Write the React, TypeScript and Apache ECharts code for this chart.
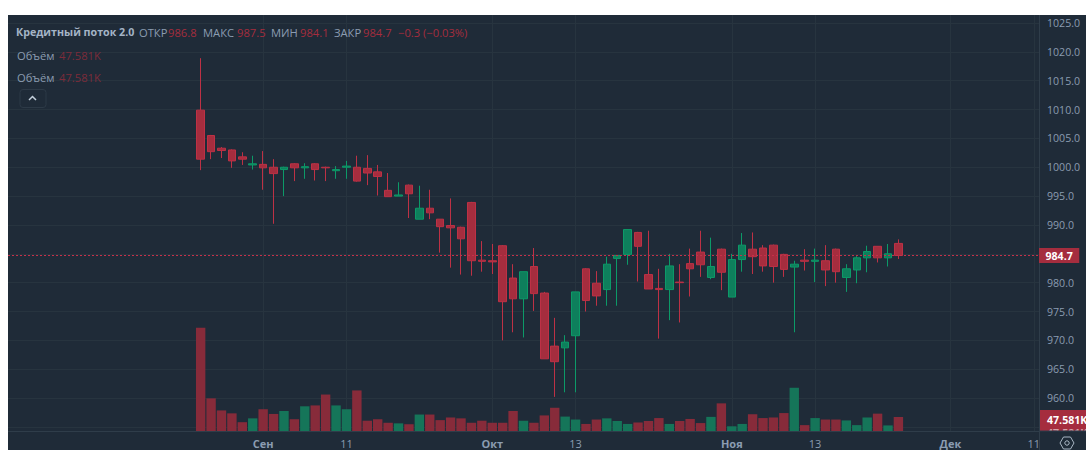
import React, { useEffect, useRef } from "react";
import * as echarts from "echarts";

const opens = [
  1009.9, 1005.5, 1003.3, 1003.0, 1001.8, 1000.4, 1000.5, 1000.0, 999.6, 1000.6,
  999.9, 1000.6, 1000.0, 999.4, 1000.0, 1000.0, 999.8, 999.2, 996.0, 995.0,
  996.9, 991.0, 992.9, 991.0, 989.9, 989.6, 993.9, 983.9, 983.8, 986.4,
  980.8, 977.2, 982.8, 978.2, 969.0, 968.7, 970.8, 982.4, 979.9, 978.8,
  984.2, 984.9, 988.7, 981.4, 979.0, 978.8, 980.1, 983.3, 985.3, 980.9,
  985.8, 977.5, 984.0, 985.8, 986.0, 986.5, 984.9, 982.7, 983.9, 983.7,
  983.8, 985.8, 980.9, 982.2, 984.3, 986.3, 984.3, 986.8,
];
const closes = [
  1001.4, 1002.7, 1002.9, 1001.1, 1001.4, 1000.6, 999.9, 998.9, 1000.0, 999.9,
  1000.1, 999.6, 999.9, 999.6, 1000.2, 997.6, 999.0, 998.4, 994.9, 995.2,
  995.4, 992.9, 992.1, 989.7, 989.5, 987.6, 983.8, 983.7, 983.6, 976.7,
  977.2, 981.9, 978.1, 966.8, 966.3, 969.7, 978.4, 976.9, 977.7, 983.2,
  984.7, 989.2, 986.3, 978.9, 978.8, 982.9, 980.0, 982.4, 983.1, 982.8,
  981.8, 984.0, 986.5, 984.5, 982.9, 982.8, 982.3, 983.2, 983.7, 983.9,
  982.2, 981.9, 982.4, 984.3, 985.4, 984.3, 985.0, 984.7,
];
const highs = [
  1018.9, 1005.6, 1003.5, 1003.1, 1002.6, 1002.0, 1002.8, 1001.4, 1000.1, 1000.7,
  1000.7, 1000.7, 1000.1, 1000.2, 1001.1, 1002.0, 1002.1, 1000.4, 999.0, 997.4,
  997.0, 996.8, 996.1, 991.0, 994.6, 989.7, 994.0, 987.2, 986.7, 986.5,
  983.2, 981.9, 986.0, 978.4, 973.9, 970.9, 978.4, 982.5, 982.0, 984.5,
  984.8, 989.3, 988.8, 989.0, 982.4, 985.0, 983.2, 985.9, 989.0, 987.8,
  985.9, 985.0, 988.6, 988.7, 986.5, 986.6, 985.0, 983.8, 985.8, 985.9,
  986.5, 985.9, 983.2, 984.6, 986.4, 986.3, 986.7, 987.5,
];
const lows = [
  999.5, 1001.4, 1001.6, 999.9, 1000.4, 999.6, 996.1, 990.2, 995.0, 997.6,
  998.0, 997.7, 997.6, 998.0, 998.0, 997.5, 996.9, 995.1, 994.9, 995.0,
  991.2, 991.0, 991.0, 985.2, 982.6, 981.4, 981.2, 981.9, 981.5, 970.0,
  971.4, 970.5, 975.1, 966.8, 960.2, 961.0, 961.0, 975.0, 976.0, 976.0,
  976.0, 983.1, 980.2, 978.9, 970.3, 973.5, 973.1, 977.6, 981.0, 980.6,
  978.7, 977.5, 981.9, 981.5, 981.9, 980.0, 981.0, 971.4, 982.1, 980.1,
  979.4, 980.0, 978.4, 979.9, 981.8, 983.5, 982.8, 984.1,
];
const volumes = [
  351, 111, 70, 60, 30, 43, 74, 58, 68, 40,
  84, 87, 124, 87, 74, 138, 35, 40, 28, 26,
  23, 56, 56, 37, 46, 43, 28, 35, 28, 28,
  68, 35, 28, 53, 79, 49, 39, 24, 39, 43,
  34, 24, 29, 34, 44, 24, 34, 41, 27, 48,
  94, 16, 24, 57, 44, 46, 61, 147, 20, 44,
  39, 39, 36, 20, 46, 59, 19, 47.581,
];

const leadingSlots = 18;
const totalSlots = 99;
const tickSlots = [24, 32, 46, 54, 69, 77, 90, 98];
const tickTexts = ["Сен", "11", "Окт", "13", "Ноя", "13", "Дек", "11"];
const monthTexts = ["Сен", "Окт", "Ноя", "Дек"];
const priceTicks = [955, 960, 965, 970, 975, 980, 985, 990, 995, 1000, 1005, 1010, 1015, 1020, 1025];
const priceLabels = priceTicks.slice(1);
const lastPrice = 984.7;
const volumeText = "47.581K";

const BG = "#1f2b38";
const GRID = "#27343f";
const TEXT = "#8b9cb1";
const RED = "#a52d3e";
const RED_BORDER = "#bd3145";
const GREEN = "#0e7f5c";
const GREEN_BORDER = "#0c9a68";
const VOL_RED = "#872b3a";
const VOL_GREEN = "#157559";
const FONT = '"Open Sans", "Noto Sans", sans-serif';
const OX = 8;
const OY = 15;

const categories = Array.from({ length: totalSlots }, (_, i) => {
  const at = tickSlots.indexOf(i);
  return at >= 0 ? tickTexts[at] : "";
});
const pad = (arr: any[]) => [...Array(leadingSlots).fill("-"), ...arr];
const candleData = opens.map((o, i) => [o, closes[i], lows[i], highs[i]]);
const volumeData = volumes.map((v, i) => ({
  value: v,
  itemStyle: { color: closes[i] > opens[i] ? VOL_GREEN : VOL_RED },
}));
const isTick = (i: number) => tickSlots.includes(i);

const txt = (x: number, y: number, text: string, fill: string, fontWeight: any = "normal", fontSize = 11.2, z = 20) => ({
  type: "text",
  x: x - OX,
  y: y - OY,
  z,
  silent: true,
  style: { text, fill, font: `${fontWeight} ${fontSize}px ${FONT}`, textVerticalAlign: "middle" },
});

const legendRow = [
  [139, "ОТКР", TEXT],
  [168, "986.8", RED],
  [203, "МАКС", TEXT],
  [237, "987.5", RED],
  [271, "МИН", TEXT],
  [300, "984.1", RED],
  [334, "ЗАКР", TEXT],
  [363, "984.7", RED],
  [398, "−0.3 (−0.03%)", RED],
] as [number, string, string][];

export default function App() {
  const ref = useRef<HTMLDivElement>(null);
  useEffect(() => {
    const chart = echarts.init(ref.current!, null, { renderer: "svg" });
    const c = { x: 1067 - OX, y: 443 - OY };
    chart.setOption({
      animation: false,
      backgroundColor: BG,
      textStyle: { fontFamily: FONT },
      grid: [
        { left: 0, right: 47, top: 0, height: 416 },
        { left: 0, right: 47, top: 300, height: 116 },
      ],
      xAxis: [
        {
          type: "category",
          gridIndex: 0,
          data: categories,
          boundaryGap: true,
          axisLine: { show: true, lineStyle: { color: "#2f3d4a", width: 1 } },
          axisTick: { show: false },
          axisLabel: {
            show: true,
            interval: (i: number) => isTick(i),
            color: TEXT,
            fontSize: 11,
            margin: 7,
            hideOverlap: false,
            formatter: (v: string) => (monthTexts.includes(v) ? `{m|${v}}` : v),
            rich: { m: { color: TEXT, fontSize: 11, fontWeight: "bold" } },
          },
          splitLine: {
            show: true,
            alignWithLabel: true,
            interval: (i: number) => isTick(i),
            lineStyle: { color: GRID, width: 1 },
          },
        },
        {
          type: "category",
          gridIndex: 1,
          data: categories,
          boundaryGap: true,
          axisLine: { show: false },
          axisTick: { show: false },
          axisLabel: { show: false },
          splitLine: { show: false },
        },
      ],
      yAxis: [
        {
          type: "value",
          gridIndex: 0,
          position: "right",
          min: 954.29,
          max: 1026.386,
          axisLine: { show: true, lineStyle: { color: "#2f3d4a", width: 1 } },
          axisTick: { show: false, customValues: priceTicks },
          axisLabel: {
            show: true,
            customValues: priceLabels,
            color: TEXT,
            fontSize: 10.6,
            margin: 8,
            formatter: (v: number) => v.toFixed(1),
          },
          splitLine: { show: true, lineStyle: { color: GRID, width: 1 } },
        },
        {
          type: "value",
          gridIndex: 1,
          min: 0,
          max: 394.4,
          axisLine: { show: false },
          axisTick: { show: false },
          axisLabel: { show: false },
          splitLine: { show: false },
        },
      ],
      series: [
        {
          type: "bar",
          name: "Объём",
          xAxisIndex: 1,
          yAxisIndex: 1,
          data: pad(volumeData),
          barWidth: 9.4,
          z: 2,
        },
        {
          type: "candlestick",
          name: "Кредитный поток 2.0",
          xAxisIndex: 0,
          yAxisIndex: 0,
          data: pad(candleData),
          barWidth: 8,
          z: 3,
          itemStyle: {
            color: GREEN,
            color0: RED,
            borderColor: GREEN_BORDER,
            borderColor0: RED_BORDER,
            borderWidth: 1,
          },
          markLine: {
            silent: true,
            symbol: "none",
            lineStyle: { color: "#c4304a", type: [2, 2], width: 1, opacity: 1 },
            data: [{ yAxis: lastPrice }],
            label: {
              show: true,
              position: "end",
              distance: 0,
              formatter: () => lastPrice.toFixed(1),
              backgroundColor: RED,
              color: "#ffffff",
              fontWeight: "bold",
              fontSize: 10.6,
              lineHeight: 11,
              padding: [2, 6.5, 2, 6.5],
            },
          },
        },
      ],
      graphic: [
        txt(16, 32, "Кредитный поток 2.0", "#a4b4c6", "bold", 10.7),
        ...legendRow.map(([x, t, col]) => txt(x, 32, t, col)),
        txt(17, 55, "Объём", TEXT),
        txt(59, 55, volumeText, "#7c2b3a"),
        txt(17, 77, "Объём", TEXT),
        txt(59, 77, volumeText, "#7c2b3a"),
        {
          type: "rect",
          z: 20,
          silent: true,
          shape: { x: 20 - OX, y: 89.5 - OY, width: 26, height: 18, r: 3 },
          style: { fill: BG, stroke: "#2d3a47", lineWidth: 1 },
        },
        {
          type: "polyline",
          z: 21,
          silent: true,
          shape: { points: [[29 - OX, 100 - OY], [32.5 - OX, 96.5 - OY], [36 - OX, 100 - OY]] },
          style: { fill: "none", stroke: "#c4d0dc", lineWidth: 1.5 },
        },
        {
          type: "rect",
          z: 30,
          silent: true,
          shape: { x: 1040 - OX, y: 410 - OY, width: 46, height: 21 },
          style: { fill: RED },
        },
        txt(1047, 419.5, volumeText, "#ffffff", "bold", 10.6, 31),
        txt(1047, 433, volumeText, "#d6a0a8", "bold", 10.6, 31),
        {
          type: "rect",
          z: 32,
          silent: true,
          shape: { x: 1040 - OX, y: 431 - OY, width: 46, height: 19 },
          style: { fill: BG },
        },
        {
          type: "line",
          z: 33,
          silent: true,
          shape: { x1: 1039.5 - OX, y1: 431 - OY, x2: 1086 - OX, y2: 431 - OY },
          style: { stroke: "#2f3d4a", lineWidth: 1 },
        },
        {
          type: "line",
          z: 33,
          silent: true,
          shape: { x1: 1039.5 - OX, y1: 431 - OY, x2: 1039.5 - OX, y2: 450 - OY },
          style: { stroke: "#2f3d4a", lineWidth: 1 },
        },
        {
          type: "polygon",
          z: 34,
          silent: true,
          shape: {
            points: [
              [c.x - 7, c.y],
              [c.x - 3.5, c.y - 6],
              [c.x + 3.5, c.y - 6],
              [c.x + 7, c.y],
              [c.x + 3.5, c.y + 6],
              [c.x - 3.5, c.y + 6],
            ],
          },
          style: { fill: "none", stroke: "#a9b6c4", lineWidth: 1 },
        },
        {
          type: "circle",
          z: 34,
          silent: true,
          shape: { cx: c.x, cy: c.y, r: 2.2 },
          style: { fill: "none", stroke: "#a9b6c4", lineWidth: 1 },
        },
      ],
    });
    return () => chart.dispose();
  }, []);
  return (
    <div style={{ position: "absolute", left: 0, top: 0, width: 1086, height: 450, background: "#ffffff", overflow: "hidden" }}>
      <div ref={ref} style={{ position: "absolute", left: OX, top: OY, width: 1078, height: 435 }} />
    </div>
  );
}
